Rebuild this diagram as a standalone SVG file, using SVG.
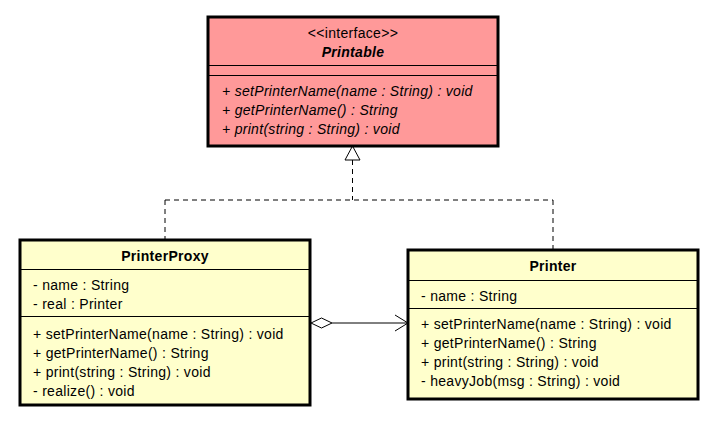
<svg xmlns="http://www.w3.org/2000/svg" width="721" height="425" viewBox="0 0 721 425">
<style>
text{font-family:"Liberation Sans",Arial,sans-serif;font-size:14px;letter-spacing:0.3px;fill:#000}
.b{font-weight:bold}
.i{font-style:italic}
.c{text-anchor:middle}
.box{stroke:#000;stroke-width:3}
.sep{stroke:#000;stroke-width:1}
.dash{fill:none;stroke:#000;stroke-width:1;stroke-dasharray:5,4}
</style>
<rect width="721" height="425" fill="#fff"/>
<g id="connectors">
<path class="dash" d="M352.5,160 V200 M165,200 H553 M165,200 V239 M553,200 V249"/>
<polygon points="352.5,146 345,160 360,160" fill="#fff" stroke="#000" stroke-width="1"/>
<line x1="332" y1="323" x2="407" y2="323" stroke="#000" stroke-width="1"/>
<polygon points="311,323 321.5,318 332,323 321.5,328" fill="#fff" stroke="#000" stroke-width="1"/>
<polyline points="395,315 408,323 395,331" fill="none" stroke="#000" stroke-width="1"/>
</g>
<g id="Printable">
<rect class="box" x="208" y="17" width="290" height="129" fill="#ff9999"/>
<line class="sep" x1="208" y1="65.5" x2="498" y2="65.5"/>
<line class="sep" x1="208" y1="75.5" x2="498" y2="75.5"/>
<text class="c" x="353" y="38">&lt;&lt;interface&gt;&gt;</text>
<text class="c b i" x="353" y="57">Printable</text>
<text class="i" x="222" y="96">+ setPrinterName(name : String) : void</text>
<text class="i" x="222" y="115">+ getPrinterName() : String</text>
<text class="i" x="222" y="134">+ print(string : String) : void</text>
</g>
<g id="PrinterProxy">
<rect class="box" x="20" y="240" width="290" height="165" fill="#ffffcc"/>
<line class="sep" x1="20" y1="269.5" x2="310" y2="269.5"/>
<line class="sep" x1="20" y1="316.5" x2="310" y2="316.5"/>
<text class="c b" x="165" y="261">PrinterProxy</text>
<text x="33" y="290">- name : String</text>
<text x="33" y="309">- real : Printer</text>
<text x="33" y="339">+ setPrinterName(name : String) : void</text>
<text x="33" y="358">+ getPrinterName() : String</text>
<text x="33" y="377">+ print(string : String) : void</text>
<text x="33" y="396">- realize() : void</text>
</g>
<g id="Printer">
<rect class="box" x="408" y="250" width="290" height="149" fill="#ffffcc"/>
<line class="sep" x1="408" y1="280.5" x2="698" y2="280.5"/>
<line class="sep" x1="408" y1="308.5" x2="698" y2="308.5"/>
<text class="c b" x="553" y="271">Printer</text>
<text x="421" y="301">- name : String</text>
<text x="421" y="329">+ setPrinterName(name : String) : void</text>
<text x="421" y="348">+ getPrinterName() : String</text>
<text x="421" y="367">+ print(string : String) : void</text>
<text x="421" y="386">- heavyJob(msg : String) : void</text>
</g>
</svg>
